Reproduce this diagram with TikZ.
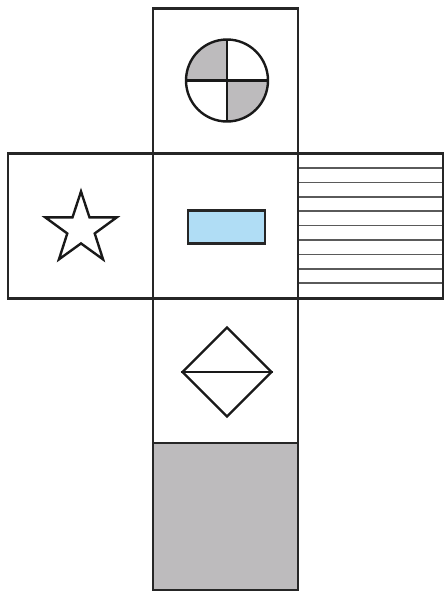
\documentclass[tikz,border=0pt]{standalone}
\usetikzlibrary{shapes.geometric}
\definecolor{shadegray}{HTML}{BDBBBD}
\definecolor{lightblue}{HTML}{B0DDF5}
\definecolor{hatchgray}{HTML}{5A5A5A}
\begin{document}
\begin{tikzpicture}[x=1pt,y=-1pt,
  face/.style={draw=black!85,line width=2.6pt,minimum width=145pt,minimum height=145pt,inner sep=0pt,outer sep=0pt},
  symb/.style={draw=black!90,line width=2.4pt},
  hatch/.style={draw=hatchgray,line width=1.6pt}]
\useasboundingbox (0,0) rectangle (446,598);
% faces
\node[face] (top) at (225.5,81) {};
\node[face] (left) at (80.5,226) {};
\node[face] (mid) at (225.5,226) {};
\node[face] (right) at (370.5,226) {};
\node[face] (low) at (225.5,370.5) {};
\node[face,fill=shadegray,minimum height=147pt] (bot) at (225.5,516.5) {};
% hatching on right face
\foreach \i in {1,...,9}{
  \draw[hatch] ([yshift=-\i*14.4pt]right.north west) -- ([yshift=-\i*14.4pt]right.north east);
}
\node[face] at (right) {};
% circle with shaded quadrants (top-left and bottom-right)
\coordinate (cc) at (227,80.5);
\fill[shadegray] (cc) -- ++(-41,0) arc[start angle=180,end angle=270,radius=41] -- cycle;
\fill[shadegray] (cc) -- ++(41,0) arc[start angle=0,end angle=90,radius=41] -- cycle;
\draw[symb] (cc) circle[radius=41];
\draw[symb] ([xshift=-41pt]cc) -- ([xshift=41pt]cc);
\draw[symb] ([yshift=-41pt]cc) -- ([yshift=41pt]cc);
% star
\node[star,star points=5,star point ratio=2.6,minimum size=75pt,inner sep=0pt,draw=black!90,line width=2.4pt] (st) at (81,229) {};
% blue rectangle
\node[draw=black!85,line width=2.6pt,fill=lightblue,minimum width=77pt,minimum height=33pt,inner sep=0pt] (rect) at (226.5,227) {};
% diamond
\node[diamond,draw=black!90,line width=2.4pt,minimum width=90pt,minimum height=90pt,inner sep=0pt] (dia) at (227,372) {};
\draw[symb] (dia.west) -- (dia.east);
\end{tikzpicture}
\end{document}
